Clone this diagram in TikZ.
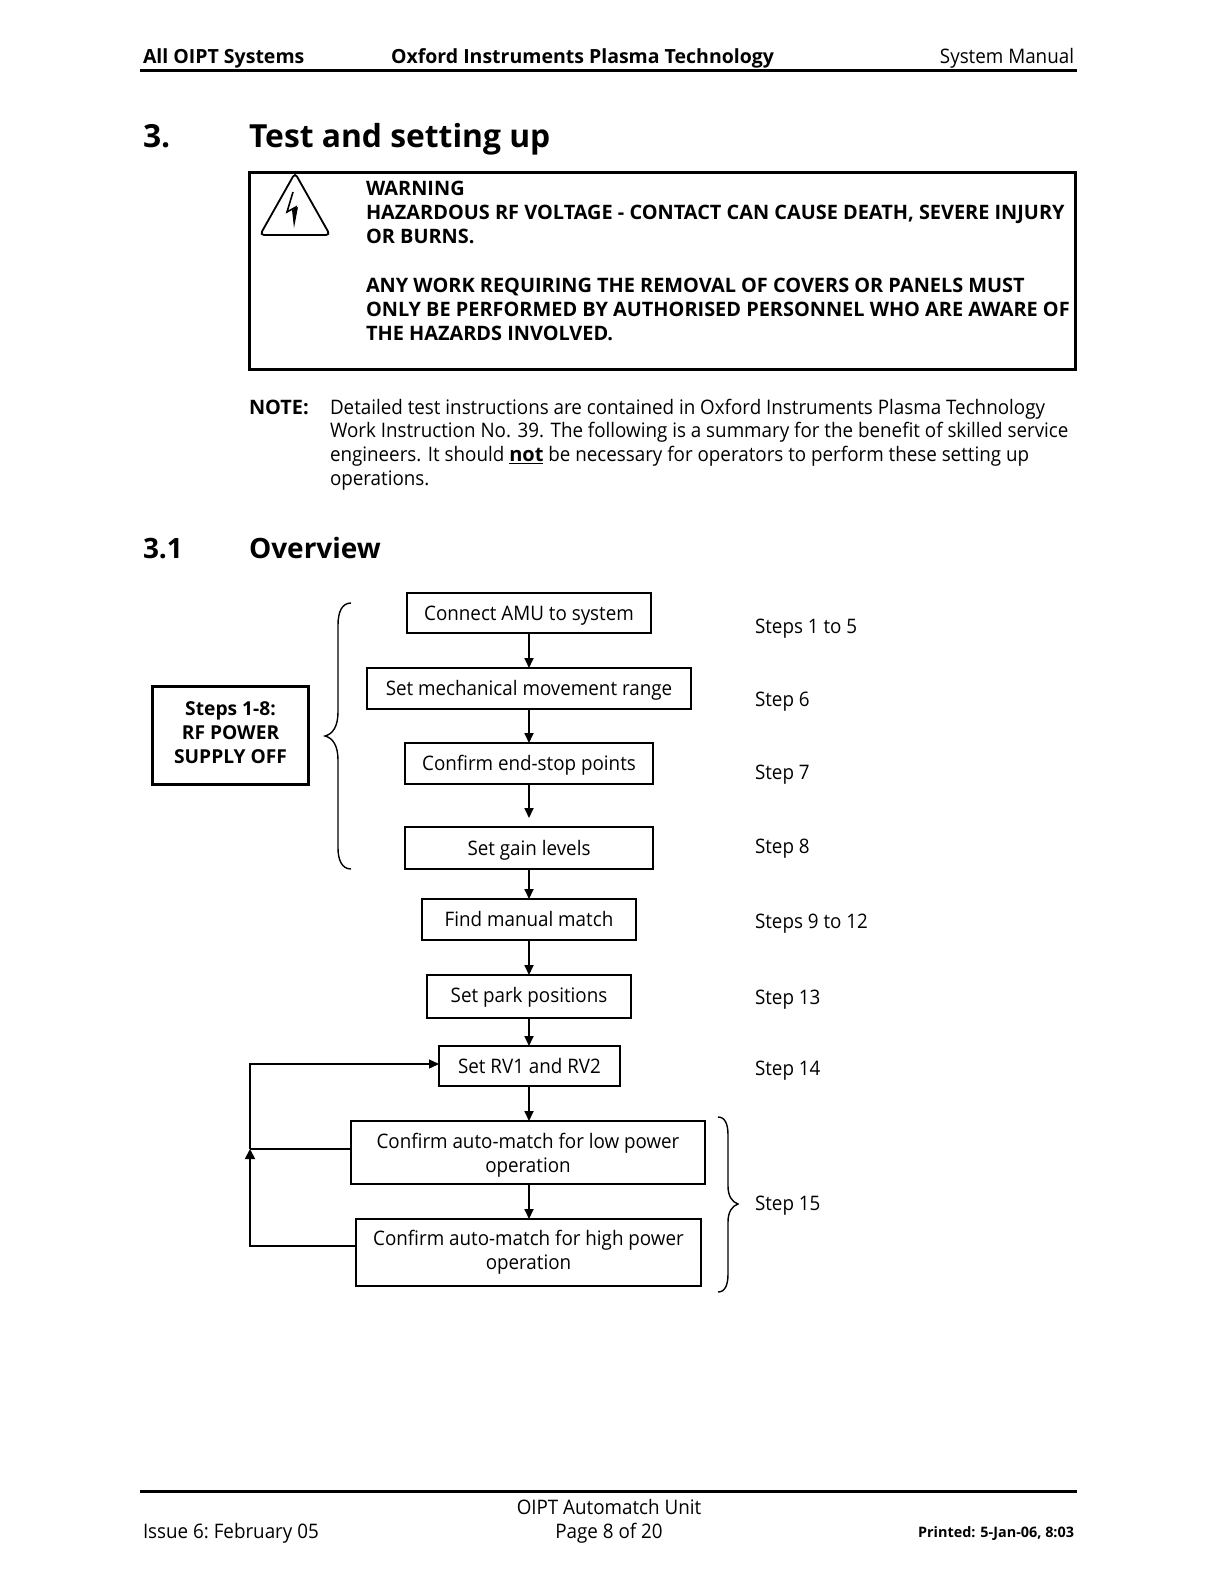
\documentclass[tikz,border=0pt]{standalone}
\usepackage{fontspec}
\setmainfont{Open Sans}[FakeStretch=0.94,BoldFeatures={FakeStretch=1}]
\usetikzlibrary{arrows.meta,calc}
\tikzset{
  every node/.style={inner sep=0pt,outer sep=0pt},
  txt/.style={anchor=base west,font=\fontsize{20}{24}\selectfont},
  txtb/.style={anchor=base west,font=\fontsize{19.9}{24}\selectfont\bfseries},
  hdr/.style={anchor=base west,font=\fontsize{19.5}{24}\selectfont\bfseries},
  head/.style={anchor=base west,font=\fontsize{31.8}{36}\selectfont\bfseries},
  subhead/.style={anchor=base west,font=\fontsize{28}{32}\selectfont\bfseries},
  stepbox/.style={draw,line width=1.3pt,align=center,font=\fontsize{20}{23.6}\selectfont},
  oneline/.style={stepbox,text height=16pt,text depth=2pt},
  warnbox/.style={draw,line width=3.5pt,font=\fontsize{19.2}{24}\selectfont\bfseries},
  steplabel/.style={anchor=base west,font=\fontsize{20}{24}\selectfont},
  flow/.style={line width=1.7pt,-{Triangle[length=10pt,width=9pt]}},
  plain/.style={line width=1.4pt},
  brace/.style={line width=1.4pt},
  rule/.style={line width=3pt}
}
\begin{document}
\begin{tikzpicture}[x=1pt,y=-1pt]
\useasboundingbox (0,0) rectangle (1224,1584);
% header
\node[hdr] (h1) at (143,64) {All OIPT Systems};
\node[hdr] (h2) at (391,64) {Oxford Instruments Plasma Technology};
\node[txt,anchor=base east] (h3) at (1074,64) {System Manual};
\coordinate (hl) at (140,71); \coordinate (hr) at (1077,71);
\draw[rule] (hl) -- (hr);
% section
\node[head] (s3) at (143,147.5) {3.};
\node[head] (s3t) at (249,147.5) {Test and setting up};
% warning
\draw[line width=3pt] (249,172.7) rectangle (1075,369);
\draw[line width=1.8pt,rounded corners=4pt] (295,173) -- (330,235) -- (260,235) -- cycle;
\draw[line width=1.6pt] (293,192) -- (287,212) -- (296,207) -- (295,212);
\fill (292,210) -- (294,228) -- (298,207) -- cycle;
\node[txtb] (w1) at (366,195.5) {WARNING};
\node[txtb] (w2) at (366,219.5) {HAZARDOUS RF VOLTAGE - CONTACT CAN CAUSE DEATH, SEVERE INJURY};
\node[txtb] (w3) at (366,243.5) {OR BURNS.};
\node[txtb] (w4) at (366,292) {ANY WORK REQUIRING THE REMOVAL OF COVERS OR PANELS MUST};
\node[txtb] (w5) at (366,316) {ONLY BE PERFORMED BY AUTHORISED PERSONNEL WHO ARE AWARE OF};
\node[txtb] (w6) at (366,340) {THE HAZARDS INVOLVED.};
% note
\node[txtb] (n0) at (249,414) {NOTE:};
\node[txt] (n1) at (330,414) {Detailed test instructions are contained in Oxford Instruments Plasma Technology};
\node[txt] (n2) at (330,437.5) {Work Instruction No. 39. The following is a summary for the benefit of skilled service};
\node[txt] (n3) at (330,461.5) {engineers. It should \textbf{\underline{not}} be necessary for operators to perform these setting up};
\node[txt] (n4) at (330,485) {operations.};
% 3.1
\node[subhead] (s31) at (143,558) {3.1};
\node[subhead] (s31t) at (249,558) {Overview};
% steps-off box
\node[warnbox,minimum width=156pt,minimum height=98pt] (off) at (230.5,735.5) {\raisebox{0pt}[\height][\dimexpr\depth+2pt\relax]{\begin{tabular}{@{}c@{}}Steps 1-8:\\RF POWER\\SUPPLY OFF\end{tabular}}};
% flow boxes
\node[oneline,minimum width=244pt,minimum height=40pt] (connect) at (529,613) {Connect AMU to system};
\node[oneline,minimum width=324pt,minimum height=41pt] (mech) at (529,688.5) {Set mechanical movement range};
\node[oneline,minimum width=248pt,minimum height=41pt] (ends) at (529,763.5) {Confirm end-stop points};
\node[oneline,minimum width=248pt,minimum height=42pt] (gain) at (529,848) {Set gain levels};
\node[oneline,minimum width=214pt,minimum height=41pt] (find) at (529,919.5) {Find manual match};
\node[oneline,minimum width=204pt,minimum height=43pt] (park) at (529,996.5) {\raisebox{1pt}{Set park positions}};
\node[oneline,minimum width=181pt,minimum height=40pt] (rv) at (529.5,1066) {Set RV1 and RV2};
\node[stepbox,minimum width=354pt,minimum height=63pt] (low) at (528,1152.5) {\raisebox{0pt}[\dimexpr\height+6pt\relax][\depth]{\begin{tabular}{@{}c@{}}Confirm auto-match for low power\\operation\end{tabular}}};
\node[stepbox,minimum width=345pt,minimum height=67pt] (high) at (528.5,1252.5) {\begin{tabular}{@{}c@{}}Confirm auto-match for high power\\operation\end{tabular}};
\coordinate (sp) at (529,0);
\draw[flow] (connect.south -| sp) -- (mech.north -| sp);
\draw[flow] (mech.south -| sp) -- (ends.north -| sp);
\draw[flow,shorten >=9pt] (ends.south -| sp) -- (gain.north -| sp);
\draw[flow] (gain.south -| sp) -- (find.north -| sp);
\draw[flow] (find.south -| sp) -- (park.north -| sp);
\draw[flow] (park.south -| sp) -- (rv.north -| sp);
\draw[flow] (rv.south -| sp) -- (low.north -| sp);
\draw[flow] (low.south -| sp) -- (high.north -| sp);
% feedback
\coordinate (loopA) at (250,1064);
\coordinate (loopB) at (250,1149);
\coordinate (loopC) at (250,1246);
\draw[plain] (low.west |- loopB) -- (loopB);
\draw[line width=1.8pt,-{Triangle[length=10pt,width=10pt]}] (high.west |- loopC) -- (loopC) -- (loopB);
\draw[plain,-{Triangle[length=10pt,width=9pt]}] (loopB) -- (loopA) -- (rv.west |- loopA);
% braces
\draw[brace] (351,603) .. controls (342,603) and (338,612) .. (338,625) -- (338,712) .. controls (338,726) and (333,734) .. (325,736) .. controls (333,738) and (338,746) .. (338,760) -- (338,848) .. controls (338,860) and (342,869) .. (351,869);
\draw[brace] (718,1117) .. controls (725,1117) and (728,1124) .. (728,1135) -- (728,1186) .. controls (728,1196) and (732,1202) .. (738,1204) .. controls (732,1206) and (728,1212) .. (728,1222) -- (728,1274) .. controls (728,1285) and (725,1292) .. (718,1292);
% step labels
\node[steplabel] (l1) at (755,633) {Steps 1 to 5};
\node[steplabel] (l2) at (755,706) {Step 6};
\node[steplabel] (l3) at (755,779) {Step 7};
\node[steplabel] (l4) at (755,853) {Step 8};
\node[steplabel] (l5) at (755,928) {Steps 9 to 12};
\node[steplabel] (l6) at (755,1004) {Step 13};
\node[steplabel] (l7) at (755,1075) {Step 14};
\node[steplabel] (l8) at (755,1210) {Step 15};
% footer
\coordinate (fl) at (140,1491); \coordinate (fr) at (1077,1491);
\draw[rule] (fl) -- (fr);
\node[txt,anchor=base] (f1) at (609,1514.5) {OIPT Automatch Unit};
\node[txt,anchor=base] (f2) at (609,1538.5) {Page 8 of 20};
\node[txt] (f3) at (143,1538.5) {\frenchspacing Issue 6: February 05};
\node[anchor=base east,font=\fontsize{14.4}{18}\selectfont\bfseries] (f4) at (1074,1537) {Printed: 5-Jan-06, 8:03};
\end{tikzpicture}
\end{document}
